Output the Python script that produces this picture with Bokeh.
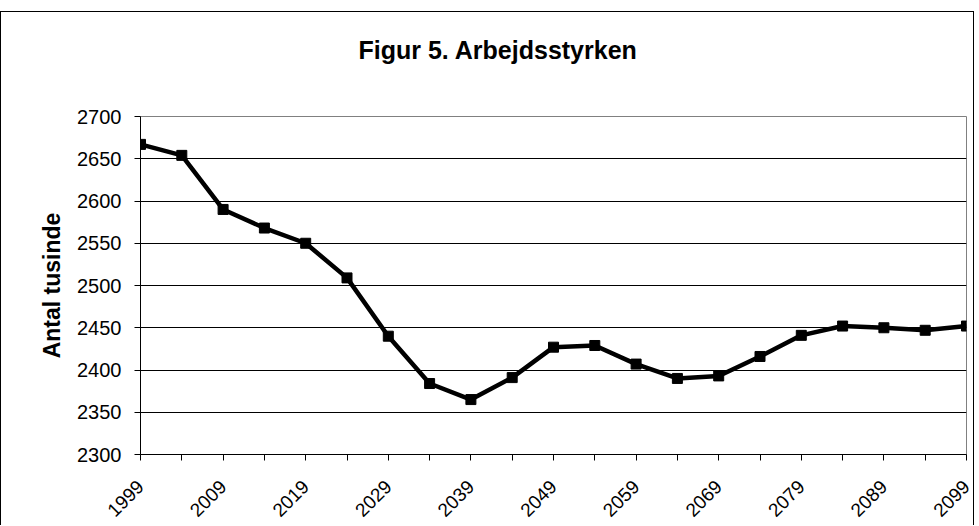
import math
from bokeh.plotting import figure
from bokeh.models import Range1d, FixedTicker, ColumnDataSource, Title
from bokeh.embed import file_html
from bokeh.resources import INLINE

years = [1999, 2004, 2009, 2014, 2019, 2024, 2029, 2034, 2039, 2044, 2049,
         2054, 2059, 2064, 2069, 2074, 2079, 2084, 2089, 2094, 2099]
workforce = [2667, 2654, 2590, 2568, 2550, 2509, 2440, 2384, 2365, 2391, 2427,
             2429, 2407, 2390, 2393, 2416, 2441, 2452, 2450, 2447, 2452]
y_ticks = [2300, 2350, 2400, 2450, 2500, 2550, 2600, 2650, 2700]
x_label_years = [1999, 2009, 2019, 2029, 2039, 2049, 2059, 2069, 2079, 2089, 2099]
title_text = "Figur 5. Arbejdsstyrken"

FONT = "Liberation Sans"

p = figure(width=974, height=514, output_backend="svg", toolbar_location=None,
           x_range=Range1d(years[0], years[-1]), y_range=Range1d(2300, 2700),
           min_border_left=139, min_border_right=9, min_border_top=104,
           min_border_bottom=72)

p.outline_line_color = "#808080"
p.outline_line_width = 1
p.background_fill_color = "white"
p.border_fill_color = "white"

# invisible spacer next to the frame, then the title further up
p.add_layout(Title(text=".", text_font_size="2px", text_color="white",
                   standoff=45), "above")
p.add_layout(Title(text=title_text, text_font=FONT, text_font_size="25px",
                   text_font_style="bold", text_color="black",
                   align="left", offset=218, standoff=10), "above")

# x axis
p.xaxis.ticker = FixedTicker(ticks=years)
p.xaxis.major_label_overrides = {y: (str(y) if y in x_label_years else "") for y in years}
p.xaxis.major_label_orientation = math.pi / 4
p.xaxis.major_label_text_font = FONT
p.xaxis.major_label_text_font_size = "19px"
p.xaxis.major_label_text_color = "black"
p.xaxis.major_label_standoff = 23
p.xaxis.major_tick_in = 0
p.xaxis.major_tick_out = 6
p.xaxis.minor_tick_line_color = None
p.xaxis.axis_line_color = "black"
p.xaxis.major_tick_line_color = "black"
p.xgrid.grid_line_color = None

# y axis
p.yaxis.ticker = FixedTicker(ticks=y_ticks)
p.yaxis.major_label_text_font = FONT
p.yaxis.major_label_text_font_size = "20px"
p.yaxis.major_label_text_color = "black"
p.yaxis.major_label_standoff = 13
p.yaxis.major_tick_in = 0
p.yaxis.major_tick_out = 6
p.yaxis.minor_tick_line_color = None
p.yaxis.axis_line_color = "black"
p.yaxis.major_tick_line_color = "black"
p.yaxis.axis_label = "Antal tusinde"
p.yaxis.axis_label_text_font = FONT
p.yaxis.axis_label_text_font_size = "23px"
p.yaxis.axis_label_text_font_style = "bold"
p.yaxis.axis_label_text_color = "black"
p.yaxis.axis_label_standoff = 9
p.ygrid.grid_line_color = "black"
p.ygrid.grid_line_width = 1

src = ColumnDataSource(data=dict(x=years, y=workforce))
p.line("x", "y", source=src, line_color="black", line_width=4.5)
p.scatter("x", "y", source=src, marker="square", size=10,
          fill_color="black", line_color="black")

# outer chart-area border (top, left, right edges like the reference)
p.styles = {"border-top": "1px solid black", "border-left": "1px solid black",
            "border-right": "1px solid black", "margin-top": "11px"}

open("out.html", "w").write(file_html(p, INLINE))
